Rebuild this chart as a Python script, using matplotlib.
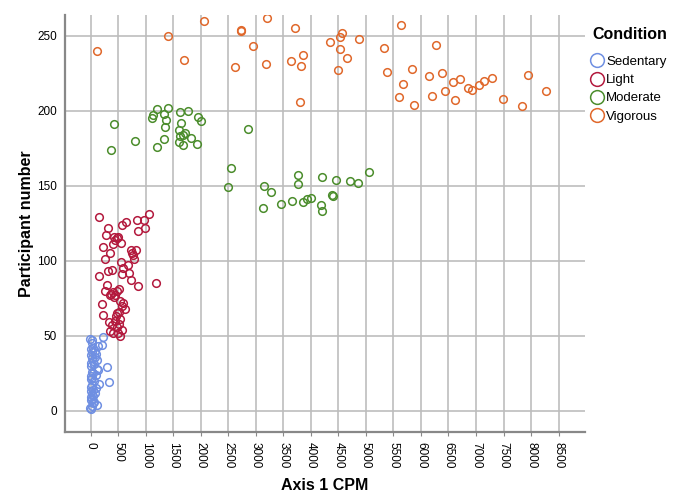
import numpy as np
import matplotlib.pyplot as plt
from matplotlib.ticker import MultipleLocator

plt.rcParams['font.family'] = ['Liberation Sans', 'DejaVu Sans']

# Sedentary
sed_x = [0, 36, 109, -10, 20, 60, 10, 30, 0, 50, 20, 80, 10, 40, 100, 0, 25, 151, 338, 60,
         10, 30, 0, 90, 45, 127, 20, 110, 302, 15, 60, 0, 40, 109, 20, 70, 0, 95, 30, 78,
         10, 50, 130, 205, 20, 29, -13, 223]
sed_y = [1, 5, 4, 2, 3, 6, 7, 8, 9, 10, 11, 12, 13, 14, 15, 16, 17, 18, 19, 20,
         21, 22, 23, 24, 25, 27, 26, 28, 29, 30, 31, 32, 33, 34, 35, 36, 37, 38, 39, 40,
         41, 42, 43, 44, 45, 47, 48, 49]

# Light
light_x = [156, 320, 278, 429, 472, 501, 441, 410, 545, 229, 351, 265, 563, 636, 835, 973,
           1064, 854, 986, 726, 817, 774, 755, 786, 545, 683, 581, 563, 701, 726, 156, 320,
           381, 864, 1191, 291, 260, 369, 410, 441, 351, 423, 519, 532, 592, 563, 623, 200,
           218, 472, 459, 519, 532, 441, 338, 381, 519, 472, 563, 501, 410, 532, 351, 478]
light_y = [129, 122, 117, 116, 115, 116, 114, 111, 112, 109, 105, 101, 124, 126, 127, 127,
           131, 120, 122, 107, 107, 104, 105, 101, 99, 97, 95, 91, 92, 87, 90, 93,
           94, 83, 85, 84, 80, 78, 79, 77, 77, 76, 81, 73, 72, 70, 68, 71,
           64, 65, 63, 66, 61, 60, 59, 57, 58, 56, 54, 52, 52, 50, 53, 80]

# Moderate
mod_x = [429, 363, 805, 1198, 1137, 1113, 1398, 1326, 1367, 1349, 1326, 1210, 1627, 1767,
         1640, 1604, 1712, 1682, 1627, 1822, 1604, 1682, 1936, 1954, 1998, 2851, 2542, 2488,
         3147, 3269, 3129, 3450, 3656, 3770, 3770, 3850, 3923, 4006, 4206, 4182, 4195, 4449,
         4376, 4406, 4709, 4849, 5060]
mod_y = [191, 174, 180, 201, 197, 195, 202, 198, 194, 189, 181, 176, 199, 200,
         192, 187, 185, 184, 183, 182, 179, 177, 178, 196, 193, 188, 162, 149,
         150, 146, 135, 138, 140, 157, 151, 139, 141, 142, 156, 137, 133, 154,
         144, 143, 153, 152, 159]

# Vigorous
vig_x = [120, 1398, 2052, 1700, 2724, 2730, 2626, 2942, 3207, 3178, 3704, 3637, 3850, 3819,
         3806, 4346, 4485, 4527, 4558, 4527, 4649, 4867, 5332, 5641, 5387, 6265, 5841, 5677,
         5599, 5877, 6138, 6374, 6198, 6429, 6610, 6574, 6712, 6846, 6919, 7051, 7148, 7293,
         7493, 7827, 7936, 8274]
vig_y = [240, 250, 260, 234, 253, 254, 229, 243, 262, 231, 255, 233, 237, 230,
         206, 246, 227, 249, 252, 241, 235, 248, 242, 257, 226, 244, 228, 218,
         209, 204, 223, 225, 210, 213, 207, 219, 221, 215, 214, 217, 220, 222,
         208, 203, 224, 213]

groups = ['Sedentary', 'Light', 'Moderate', 'Vigorous']
colors = ['#6f8fe2', '#b3193d', '#4b8d2c', '#e0682b']
xs = [sed_x, light_x, mod_x, vig_x]
ys = [sed_y, light_y, mod_y, vig_y]

fig = plt.figure(figsize=(6.73, 4.94), dpi=100)
ax = fig.add_axes([0.097, 0.1255, 0.772, 0.845])

for x, y, c, g in zip(xs, ys, colors, groups):
    ax.plot(x, y, 'o', mfc='none', mec=c, mew=1.1, ms=5.5, label=g, zorder=3)

ax.set_xlim(-461, 8977)
ax.set_ylim(-14, 264)
ax.set_xticks(np.arange(0, 8501, 500))
ax.yaxis.set_major_locator(MultipleLocator(50))
ax.grid(True, color='#bdbdbd', lw=1.2, zorder=0)
ax.set_axisbelow(True)
for s in ['top', 'right']:
    ax.spines[s].set_visible(False)
for s in ['left', 'bottom']:
    ax.spines[s].set_color('#888888')
    ax.spines[s].set_linewidth(1.6)
ax.tick_params(axis='x', labelrotation=-90, labelsize=8.5, length=3, color='#888888', pad=4)
ax.tick_params(axis='y', labelsize=8.5, length=0, pad=6)

ax.set_xlabel('Axis 1 CPM', fontsize=11.5, fontweight='bold', labelpad=7)
ax.set_ylabel('Participant number', fontsize=11.5, fontweight='bold', labelpad=2)

leg = ax.legend(loc='upper left', bbox_to_anchor=(1.004, 0.983), frameon=False,
                title='Condition', fontsize=9.5, markerscale=1.8, handlelength=0.8,
                handletextpad=0.25, labelspacing=0.45, borderaxespad=0,
                alignment='left', title_fontproperties={'weight': 'bold', 'size': 11.5})
leg._legend_box.sep = 10

fig.savefig('out.png', dpi=100)
